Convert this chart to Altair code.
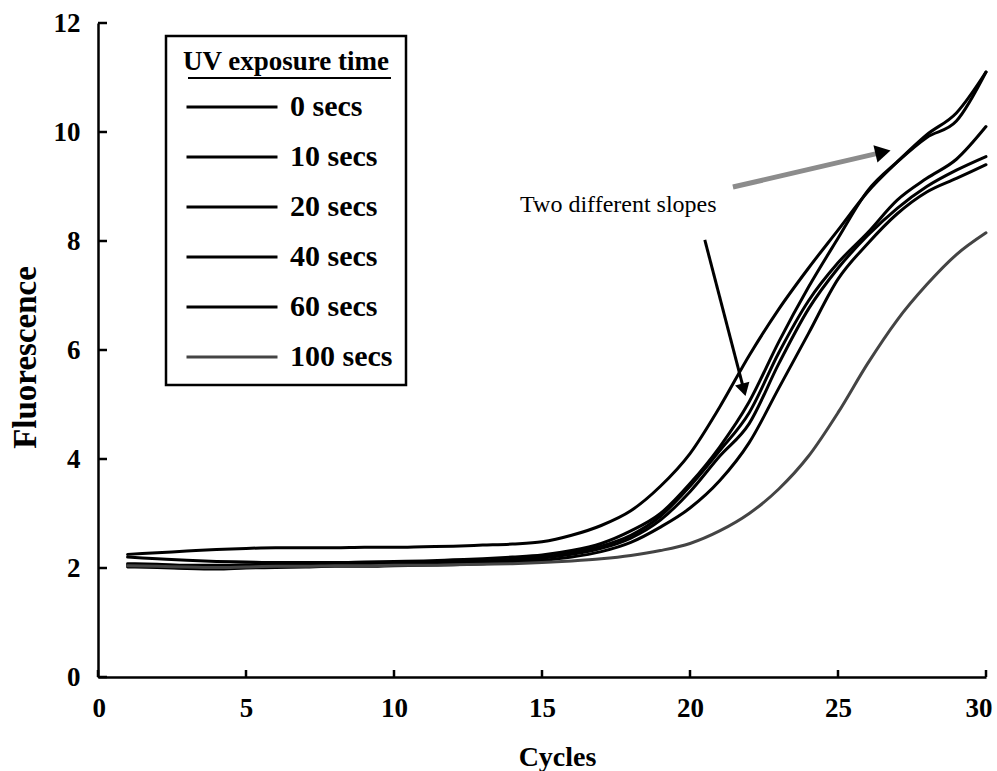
import altair as alt
import pandas as pd

# ---------------- data ----------------
cycles = list(range(1, 31))
series_names = ["0 secs", "10 secs", "20 secs", "40 secs", "60 secs", "100 secs"]

s_0 = [2.25, 2.28, 2.31, 2.34, 2.36, 2.37, 2.37, 2.37, 2.38, 2.38, 2.39, 2.40, 2.42, 2.44, 2.48,
       2.60, 2.78, 3.05, 3.50, 4.10, 4.95, 5.90, 6.75, 7.50, 8.20, 8.90, 9.45, 9.95, 10.35, 11.10]
s_10 = [2.20, 2.17, 2.14, 2.12, 2.11, 2.10, 2.10, 2.10, 2.11, 2.12, 2.13, 2.15, 2.17, 2.20, 2.24,
        2.32, 2.45, 2.68, 3.00, 3.55, 4.22, 5.05, 6.15, 7.15, 8.05, 8.92, 9.45, 9.90, 10.20, 11.10]
s_20 = [2.08, 2.07, 2.05, 2.05, 2.06, 2.07, 2.07, 2.08, 2.08, 2.09, 2.10, 2.11, 2.13, 2.16, 2.20,
        2.28, 2.40, 2.60, 2.95, 3.50, 4.15, 4.85, 5.95, 6.90, 7.60, 8.15, 8.75, 9.15, 9.50, 10.10]
s_40 = [2.05, 2.03, 2.00, 2.00, 2.02, 2.03, 2.04, 2.05, 2.05, 2.06, 2.07, 2.08, 2.10, 2.13, 2.18,
        2.25, 2.36, 2.55, 2.88, 3.40, 4.05, 4.65, 5.75, 6.75, 7.50, 8.10, 8.60, 9.00, 9.30, 9.55]
s_60 = [2.02, 2.01, 1.99, 1.98, 2.00, 2.01, 2.02, 2.03, 2.03, 2.04, 2.05, 2.06, 2.08, 2.10, 2.14,
        2.20, 2.30, 2.47, 2.75, 3.10, 3.60, 4.30, 5.30, 6.30, 7.30, 7.95, 8.50, 8.90, 9.15, 9.40]
s_100 = [2.04, 2.03, 2.02, 2.01, 2.02, 2.03, 2.03, 2.04, 2.04, 2.05, 2.05, 2.06, 2.07, 2.08, 2.10,
         2.13, 2.17, 2.23, 2.32, 2.45, 2.68, 3.00, 3.45, 4.05, 4.85, 5.75, 6.55, 7.20, 7.75, 8.15]

x_ticks = [0, 5, 10, 15, 20, 25, 30]
y_ticks = [0, 2, 4, 6, 8, 10, 12]

annot_text = ["Two different slopes"]
annot_x = [14.26]
annot_y = [8.66]

arrow_name = ["upper", "lower"]
arrow_x0 = [21.45, 20.50]
arrow_y0 = [8.99, 8.02]
arrow_x1 = [26.52, 21.82]
arrow_y1 = [9.63, 5.27]

# ---------------- build tables ----------------
all_series = [s_0, s_10, s_20, s_40, s_60, s_100]
rows = []
for name, vals in zip(series_names, all_series):
    for c, v in zip(cycles, vals):
        rows.append({"cycle": c, "fluor": v, "series": name})
df = pd.DataFrame(rows)

df_xt = pd.DataFrame({"v": x_ticks})
df_yt = pd.DataFrame({"v": y_ticks})
df_txt = pd.DataFrame({"label": annot_text, "x": annot_x, "y": annot_y})
df_arr = pd.DataFrame({"name": arrow_name, "x0": arrow_x0, "y0": arrow_y0,
                       "x1": arrow_x1, "y1": arrow_y1})

W, H = 888, 654
SERIF = "Liberation Serif"

xscale = alt.Scale(domain=[0, 30], nice=False)
yscale = alt.Scale(domain=[0, 12], nice=False)

x_axis = alt.Axis(values=x_ticks, title="Cycles", grid=False, ticks=False, format="d",
                  domain=True, domainColor="black", domainWidth=2.5,
                  labelFont=SERIF, labelFontWeight="bold", labelFontSize=27,
                  labelColor="black", labelPadding=18, labelFlush=True,
                  labelFlushOffset=6,
                  titleFont=SERIF, titleFontWeight="bold", titleFontSize=28,
                  titleColor="black", titleX=459, titleY=88,
                  titleAlign="center", titleBaseline="alphabetic")
y_axis = alt.Axis(values=y_ticks, title="Fluorescence", grid=False, ticks=False, format="d",
                  domain=True, domainColor="black", domainWidth=2.5,
                  labelFont=SERIF, labelFontWeight="bold", labelFontSize=27,
                  labelColor="black", labelPadding=18, labelFlush=False,
                  titleFont=SERIF, titleFontWeight="bold", titleFontSize=33,
                  titleColor="black", titleX=-73, titleY=334, titleAngle=270,
                  titleAlign="center", titleBaseline="middle")

lines = alt.Chart(df).mark_line(interpolate="monotone", strokeCap="round",
                                strokeJoin="round").encode(
    x=alt.X("cycle:Q", scale=xscale, axis=x_axis),
    y=alt.Y("fluor:Q", scale=yscale, axis=y_axis),
    color=alt.Color("series:N", sort=series_names,
                    scale=alt.Scale(domain=series_names,
                                    range=["black", "black", "black", "black", "black", "#444444"]),
                    legend=alt.Legend(title="UV exposure time", orient="none",
                                      legendX=68, legendY=13, padding=13,
                                      strokeColor="black",
                                      titleFont=SERIF, titleFontWeight="bold",
                                      titleFontSize=27, titleColor="black",
                                      titleAnchor="middle", titlePadding=16,
                                      titleLimit=400,
                                      labelFont=SERIF, labelFontWeight="bold",
                                      labelFontSize=30, labelColor="black",
                                      labelOffset=11, symbolOffset=6,
                                      symbolType="stroke",
                                      symbolSize=8281, symbolStrokeWidth=2.5,
                                      clipHeight=30, rowPadding=20)),
    strokeWidth=alt.StrokeWidth("series:N",
                                scale=alt.Scale(domain=series_names,
                                                range=[3, 3, 3, 3, 3, 1.5]),
                                legend=None),
    detail="series:N",
)

yt = alt.Chart(df_yt).mark_rule(color="black", strokeWidth=2.5).encode(
    y=alt.Y("v:Q", scale=yscale), x=alt.value(0), x2=alt.value(9))
xt = alt.Chart(df_xt).mark_rule(color="black", strokeWidth=2.5).encode(
    x=alt.X("v:Q", scale=xscale), y=alt.value(H), y2=alt.value(H - 7))

arr_upper = alt.Chart(df_arr).transform_filter(alt.datum.name == "upper")
arr_lower = alt.Chart(df_arr).transform_filter(alt.datum.name == "lower")

shaft1 = arr_upper.mark_rule(color="#8c8c8c", strokeWidth=5).encode(
    x=alt.X("x0:Q", scale=xscale), y=alt.Y("y0:Q", scale=yscale),
    x2="x1:Q", y2="y1:Q")
head1 = arr_upper.mark_point(shape="triangle-up", filled=True, color="black",
                             size=320, angle=77, opacity=1).encode(
    x=alt.X("x1:Q", scale=xscale), y=alt.Y("y1:Q", scale=yscale))
shaft2 = arr_lower.mark_rule(color="black", strokeWidth=3).encode(
    x=alt.X("x0:Q", scale=xscale), y=alt.Y("y0:Q", scale=yscale),
    x2="x1:Q", y2="y1:Q")
head2 = arr_lower.mark_point(shape="triangle-up", filled=True, color="black",
                             size=220, angle=165, opacity=1).encode(
    x=alt.X("x1:Q", scale=xscale), y=alt.Y("y1:Q", scale=yscale))

txt = alt.Chart(df_txt).mark_text(font=SERIF, fontSize=24, color="black",
                                  align="left", baseline="middle").encode(
    x=alt.X("x:Q", scale=xscale), y=alt.Y("y:Q", scale=yscale), text="label:N")

underline = alt.Chart(df_txt).mark_rule(color="black", strokeWidth=2).encode(
    x=alt.value(90), x2=alt.value(293), y=alt.value(55))

chart = alt.layer(lines, yt, xt, shaft1, head1, shaft2, head2, txt, underline).properties(
    width=W, height=H,
    autosize=alt.AutoSizeParams(type="none"),
    padding={"left": 98, "top": 23, "right": 11, "bottom": 94},
    background="white",
).configure_view(stroke=None).configure_legend(strokeWidth=2.5)

chart.save("out.html", embed_options={"renderer": "svg", "actions": False})
